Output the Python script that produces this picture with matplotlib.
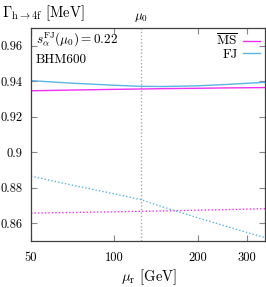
import matplotlib
matplotlib.use("Agg")
import matplotlib.pyplot as plt
from matplotlib.ticker import FixedLocator, FixedFormatter, NullLocator

plt.rcParams['font.family'] = 'serif'
plt.rcParams['font.serif'] = ['cmr10', 'DejaVu Serif']
plt.rcParams['mathtext.fontset'] = 'cm'
plt.rcParams['axes.formatter.use_mathtext'] = True

# Skalen-Punkte (GeV)
mu = [50, 70, 100, 125, 150, 200, 250, 300, 350]

# NLO (durchgezogen)
ms_nlo = [0.9347, 0.9351, 0.9355, 0.9357, 0.9359, 0.9361, 0.9363, 0.9364, 0.9365]
fj_nlo = [0.9404, 0.9390, 0.9378, 0.9372, 0.9371, 0.9375, 0.9382, 0.9389, 0.9395]

# LO (gepunktet)
ms_lo = [0.8658, 0.8661, 0.8665, 0.8668, 0.8670, 0.8674, 0.8677, 0.8680, 0.8683]
fj_lo = [0.8866, 0.8816, 0.8766, 0.8733, 0.8692, 0.8631, 0.8586, 0.8549, 0.8520]

mu0 = 125
xticks = [50, 100, 200, 300]
yticks = [0.86, 0.88, 0.90, 0.92, 0.94, 0.96]
ylabels = ['0.86', '0.88', '0.9', '0.92', '0.94', '0.96']

c_ms = '#f030f0'
c_fj = '#5bb4e5'

fig = plt.figure(figsize=(2.66, 2.87), dpi=100)
ax = fig.add_axes([0.1165, 0.160, 0.880, 0.742])

ax.plot(mu, ms_nlo, color=c_ms, lw=1.0, label=r'$\overline{\rm MS}$')
ax.plot(mu, fj_nlo, color=c_fj, lw=1.0, label='FJ')
ax.plot(mu, ms_lo, color=c_ms, lw=1.0, ls=(0, (1, 1.5)))
ax.plot(mu, fj_lo, color=c_fj, lw=1.0, ls=(0, (1, 1.5)))
ax.axvline(mu0, color='#aaaaaa', lw=1.0, ls=(0, (1, 1.5)), zorder=0)

ax.set_xscale('log')
ax.set_xlim(50, 350)
ax.set_ylim(0.85, 0.97)
ax.xaxis.set_major_locator(FixedLocator(xticks))
ax.xaxis.set_major_formatter(FixedFormatter([str(t) for t in xticks]))
ax.xaxis.set_minor_locator(NullLocator())
ax.yaxis.set_major_locator(FixedLocator(yticks))
ax.yaxis.set_major_formatter(FixedFormatter(ylabels))

ax.tick_params(direction='in', length=4, width=0.8, color='#888888',
               top=True, right=True, labelsize=9, pad=6)
ax.tick_params(axis='x', pad=8)
for s in ax.spines.values():
    s.set_color('#404040')
    s.set_linewidth(0.9)

ax.text(0.02, 0.985, r'$s_\alpha^{\rm FJ}(\mu_0) = 0.22$', transform=ax.transAxes,
        fontsize=9.5, va='top', ha='left')
ax.text(0.02, 0.88, 'BHM600', transform=ax.transAxes, fontsize=9.5, va='top', ha='left')
ax.text(mu0, 0.9725, r'$\mu_0$', fontsize=9.5, ha='center', va='bottom')

ax.legend(loc='upper right', frameon=False, fontsize=9.5, markerfirst=False,
          handlelength=1.3, handletextpad=0.4, labelspacing=0.0,
          borderaxespad=0.2, borderpad=0.2)

fig.text(0.008, 0.955, r'$\Gamma_{\rm h\to 4f}$ [MeV]', fontsize=10.5, ha='left', va='center')
fig.text(0.56, 0.035, r'$\mu_{\rm r}$ [GeV]', fontsize=10.5, ha='center', va='center')

fig.savefig('out.png', dpi=100)
